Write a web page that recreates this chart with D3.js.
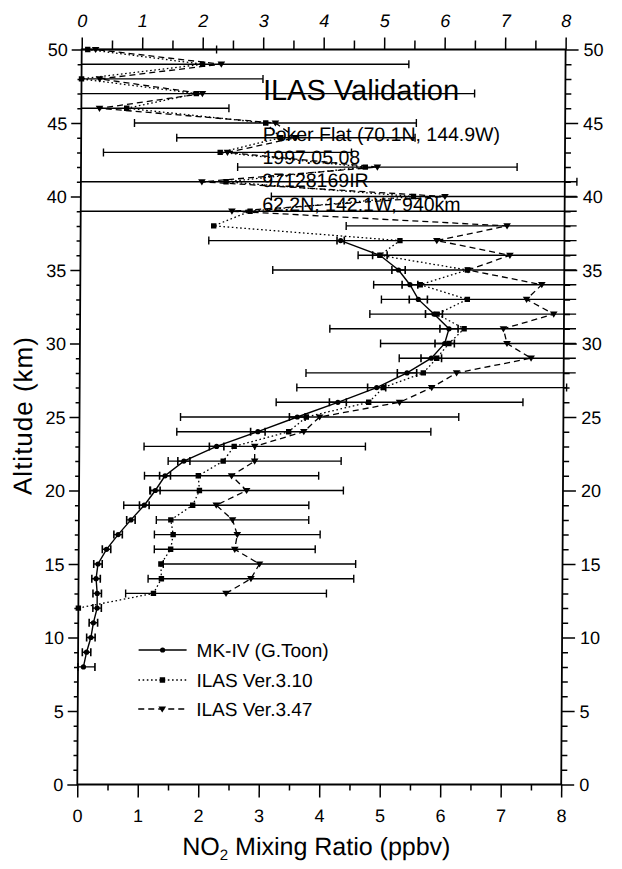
<!DOCTYPE html>
<html>
<head>
<meta charset="utf-8">
<script src="https://cdn.jsdelivr.net/npm/d3@7"></script>
<style>
  body { margin: 0; background: #fff; }
  svg { display: block; }
  text { font-family: "Liberation Sans", Arial, Helvetica, sans-serif; fill: #000; }
</style>
</head>
<body>
<svg id="chart" width="622" height="869"></svg>
<script>
// MK-IV balloon profile (G. Toon)
const mkAlt = [8, 9, 10, 11, 12, 13, 14, 15, 16, 17, 18, 19, 20, 21, 22, 23, 24, 25, 26, 27, 28, 29, 30, 31, 32, 33, 34, 35, 36, 37];
const mkVal = [0.09, 0.14, 0.21, 0.25, 0.31, 0.31, 0.29, 0.32, 0.46, 0.65, 0.86, 1.08, 1.26, 1.42, 1.73, 2.27, 2.95, 3.60, 4.27, 4.91, 5.41, 5.81, 6.03, 6.10, 5.85, 5.59, 5.45, 5.26, 4.95, 4.30];
const mkErr = [0.19, 0.07, 0.07, 0.07, 0.07, 0.07, 0.07, 0.07, 0.07, 0.07, 0.07, 0.08, 0.08, 0.09, 0.10, 0.12, 0.12, 0.13, 0.14, 0.15, 0.16, 0.17, 0.16, 0.15, 0.14, 0.15, 0.13, 0.11, 0.12, 0.06];

// ILAS Ver.3.10 retrieval
const v310Alt = [12, 13, 14, 15, 16, 17, 18, 19, 20, 21, 22, 23, 24, 25, 26, 27, 28, 29, 30, 31, 32, 33, 34, 35, 36, 37, 38, 39, 40, 41, 42, 43, 44, 45, 46, 47, 48, 49, 50];
const v310Val = [0.00, 1.24, 1.37, 1.36, 1.52, 1.56, 1.52, 1.88, 1.99, 1.97, 2.38, 2.56, 3.46, 3.75, 4.78, 5.02, 5.68, 5.90, 6.10, 6.35, 5.90, 6.40, 5.62, 6.40, 4.95, 5.28, 2.20, 2.80, 5.50, 2.40, 4.70, 2.30, 3.30, 3.05, 0.75, 1.90, 0.00, 2.00, 0.10];

// ILAS Ver.3.47 retrieval with its uncertainty
const v347Alt = [13, 14, 15, 16, 17, 18, 19, 20, 21, 22, 23, 24, 25, 26, 27, 28, 29, 30, 31, 32, 33, 34, 35, 36, 37, 38, 39, 40, 41, 42, 43, 44, 45, 46, 47, 48, 49, 50];
const v347Val = [2.44, 2.85, 2.99, 2.58, 2.62, 2.54, 2.27, 2.77, 2.52, 2.90, 2.90, 3.71, 3.97, 5.29, 5.82, 6.23, 7.46, 7.06, 7.00, 7.83, 7.38, 7.63, 6.41, 7.10, 5.89, 7.05, 2.50, 6.02, 2.00, 4.90, 2.42, 3.55, 3.21, 0.30, 2.00, 0.30, 2.31, 0.23];
const v347Err = [1.66, 1.70, 1.59, 1.33, 1.37, 1.26, 1.53, 1.60, 1.44, 1.43, 1.83, 2.10, 2.30, 2.04, 2.23, 2.49, 2.18, 2.09, 2.87, 3.04, 2.40, 2.78, 3.23, 2.51, 3.77, 2.66, 6.00, 2.87, 6.20, 2.31, 2.05, 1.97, 2.33, 2.14, 4.50, 2.70, 3.10, 2.00];

// Axis ticks
const xTicks = [0, 1, 2, 3, 4, 5, 6, 7, 8];
const xMinor = [0.5, 1.5, 2.5, 3.5, 4.5, 5.5, 6.5, 7.5];
const yTicks = [0, 5, 10, 15, 20, 25, 30, 35, 40, 45, 50];
const yMinor = [1, 2, 3, 4, 6, 7, 8, 9, 11, 12, 13, 14, 16, 17, 18, 19, 21, 22, 23, 24, 26, 27, 28, 29, 31, 32, 33, 34, 36, 37, 38, 39, 41, 42, 43, 44, 46, 47, 48, 49];

const infoLines = ["Poker Flat (70.1N,  144.9W)", "1997.05.08", "97128169IR", "62.2N, 142.1W, 940km"];
const legendNames = ["MK-IV (G.Toon)", "ILAS Ver.3.10", "ILAS Ver.3.47"];

const svg = d3.select("#chart");
svg.append("rect").attr("width", 622).attr("height", 869).attr("fill", "#fff");

// the whole figure is slightly sheared (scanned page)
const root = svg.append("g")
  .attr("transform", "translate(0,417) skewX(-0.343) translate(0,-417)");

const x = d3.scaleLinear().domain([0, 8]).range([79.5, 563.4]);
const y = d3.scaleLinear().domain([0, 50]).range([784.5, 49.5]);
const xMax = 8.2;

const fontTick = 18;

function styleAxis(g) {
  g.selectAll(".domain").remove();
  g.selectAll("line").attr("stroke", "#000").attr("stroke-width", 1.5);
}

// frame
root.append("rect")
  .attr("x", x(0)).attr("y", y(50))
  .attr("width", x(8) - x(0)).attr("height", y(0) - y(50))
  .attr("fill", "none").attr("stroke", "#000").attr("stroke-width", 1.8);

// bottom axis
const gB = root.append("g").attr("transform", `translate(0,${y(0)})`);
gB.call(d3.axisBottom(x).tickValues(xTicks).tickSize(13).tickFormat(d3.format("d")));
gB.append("g").call(d3.axisBottom(x).tickValues(xMinor).tickSize(6).tickFormat(""));
styleAxis(gB);
gB.selectAll("text").attr("y", 38).attr("dy", null).attr("font-size", fontTick);

// top axis
const gT = root.append("g").attr("transform", `translate(0,${y(50)})`);
gT.call(d3.axisTop(x).tickValues(xTicks).tickSize(12).tickFormat(d3.format("d")));
gT.append("g").call(d3.axisTop(x).tickValues(xMinor).tickSize(9).tickFormat(""));
styleAxis(gT);
gT.selectAll("text").attr("y", -23).attr("dy", null).attr("font-size", fontTick).attr("font-style", "italic");

// left axis
const gL = root.append("g").attr("transform", `translate(${x(0)},0)`);
gL.call(d3.axisLeft(y).tickValues(yTicks).tickSize(10).tickFormat(d3.format("d")));
gL.append("g").call(d3.axisLeft(y).tickValues(yMinor).tickSize(4).tickFormat(""));
styleAxis(gL);
gL.selectAll("text").attr("x", -14).attr("dy", "0.36em").attr("font-size", fontTick);

// right axis
const gR = root.append("g").attr("transform", `translate(${x(8)},0)`);
gR.call(d3.axisRight(y).tickValues(yTicks).tickSize(13).tickFormat(d3.format("d")));
gR.append("g").call(d3.axisRight(y).tickValues(yMinor).tickSize(6).tickFormat(""));
styleAxis(gR);
gR.selectAll("text").attr("x", 18).attr("dy", "0.36em").attr("font-size", fontTick);

// axis titles
root.append("text")
  .attr("transform", `translate(32,${y(25.1)}) rotate(-90)`)
  .attr("text-anchor", "middle").attr("font-size", 26).attr("letter-spacing", 1)
  .text("Altitude (km)");

const xt = root.append("text")
  .attr("x", 319).attr("y", 855)
  .attr("text-anchor", "middle").attr("font-size", 25);
xt.append("tspan").text("NO");
xt.append("tspan").attr("font-size", 15).attr("dy", 5).text("2");
xt.append("tspan").attr("dy", -5).text(" Mixing Ratio (ppbv)");

// data layer
const plot = root.append("g");

// ILAS Ver.3.47 error bars
const cap = 4;
const ebs = v347Alt.map((a, i) => ({ a, v: v347Val[i], e: v347Err[i] }));
ebs.forEach(d => {
  const lo = d.v - d.e, hi = d.v + d.e;
  const l = Math.max(0, lo), h = Math.min(xMax, hi);
  plot.append("line")
    .attr("x1", x(l)).attr("x2", x(h)).attr("y1", y(d.a)).attr("y2", y(d.a))
    .attr("stroke", "#000").attr("stroke-width", 1.4);
  if (lo >= 0) plot.append("line").attr("x1", x(lo)).attr("x2", x(lo))
    .attr("y1", y(d.a) - cap).attr("y2", y(d.a) + cap).attr("stroke", "#000").attr("stroke-width", 1.4);
  if (hi <= xMax) plot.append("line").attr("x1", x(hi)).attr("x2", x(hi))
    .attr("y1", y(d.a) - cap).attr("y2", y(d.a) + cap).attr("stroke", "#000").attr("stroke-width", 1.4);
});

// MK-IV error bars
mkAlt.forEach((a, i) => {
  const lo = Math.max(0, mkVal[i] - mkErr[i]), hi = mkVal[i] + mkErr[i];
  plot.append("line").attr("x1", x(lo)).attr("x2", x(hi)).attr("y1", y(a)).attr("y2", y(a))
    .attr("stroke", "#000").attr("stroke-width", 1.4);
  [lo, hi].forEach(v => plot.append("line").attr("x1", x(v)).attr("x2", x(v))
    .attr("y1", y(a) - cap).attr("y2", y(a) + cap).attr("stroke", "#000").attr("stroke-width", 1.6));
});

const line = d3.line().x(d => x(d[0])).y(d => y(d[1]));

// profiles
plot.append("path").datum(v310Val.map((v, i) => [v, v310Alt[i]]))
  .attr("d", line).attr("fill", "none").attr("stroke", "#000")
  .attr("stroke-width", 1.3).attr("stroke-dasharray", "1.6,2.6");
plot.append("path").datum(v347Val.map((v, i) => [v, v347Alt[i]]))
  .attr("d", line).attr("fill", "none").attr("stroke", "#000")
  .attr("stroke-width", 1.3).attr("stroke-dasharray", "6,4");
plot.append("path").datum(mkVal.map((v, i) => [v, mkAlt[i]]))
  .attr("d", line).attr("fill", "none").attr("stroke", "#000").attr("stroke-width", 1.4);

// markers
function dot(g, cx, cy) { g.append("circle").attr("cx", cx).attr("cy", cy).attr("r", 2.6).attr("fill", "#000"); }
function square(g, cx, cy) { g.append("rect").attr("x", cx - 2.7).attr("y", cy - 2.7).attr("width", 5.4).attr("height", 5.4).attr("fill", "#000"); }
function tri(g, cx, cy) {
  g.append("path").attr("d", `M${cx - 3.8},${cy - 2.6}L${cx + 3.8},${cy - 2.6}L${cx},${cy + 3.6}Z`).attr("fill", "#000");
}
v310Alt.forEach((a, i) => square(plot, x(v310Val[i]), y(a)));
v347Alt.forEach((a, i) => tri(plot, x(v347Val[i]), y(a)));
mkAlt.forEach((a, i) => dot(plot, x(mkVal[i]), y(a)));

// title block
root.append("text").attr("x", 261).attr("y", 100).attr("font-size", 29).text("ILAS Validation");
const infoY = [141, 164, 187, 211];
infoLines.forEach((t, i) => root.append("text").attr("x", 261).attr("y", infoY[i]).attr("font-size", 19.5).text(t));

// legend
const legY = [650, 680, 709];
const legDash = [null, "1.6,2.6", "6,4"];
const legMark = [dot, square, tri];
legendNames.forEach((n, i) => {
  const g = root.append("g");
  g.append("line").attr("x1", 140).attr("x2", 188).attr("y1", legY[i]).attr("y2", legY[i])
    .attr("stroke", "#000").attr("stroke-width", 1.4).attr("stroke-dasharray", legDash[i]);
  legMark[i](g, 164, legY[i]);
  g.append("text").attr("x", 198).attr("y", legY[i] + 7).attr("font-size", 19).text(n);
});
</script>
</body>
</html>
